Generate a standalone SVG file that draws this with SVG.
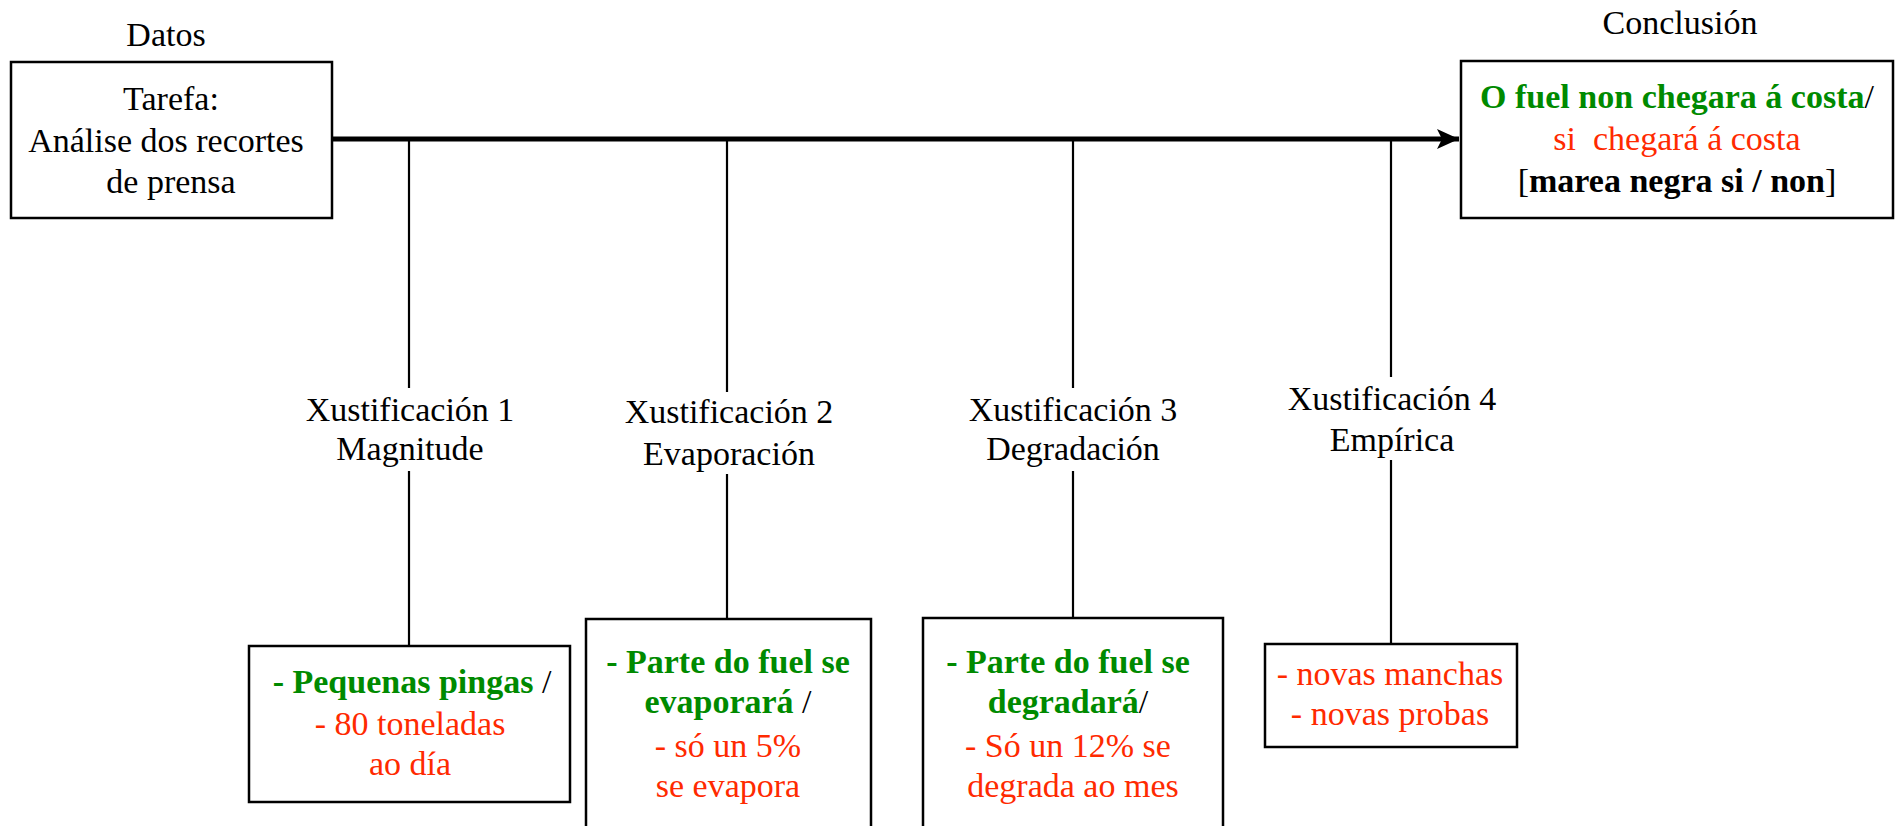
<svg xmlns="http://www.w3.org/2000/svg" width="1895" height="826" viewBox="0 0 1895 826">
<style>
text{font-family:"Liberation Serif","Times New Roman",serif;font-size:34px;text-anchor:middle;fill:#000}
.g{fill:#008a00;font-weight:bold}
.r{fill:#ff2a00}
.b{font-weight:bold}
.pre{white-space:pre}
.box{fill:#fff;stroke:#000;stroke-width:2.5}
.ln{stroke:#000;stroke-width:2.2;fill:none}
</style>
<defs>
<marker id="ah" markerWidth="24" markerHeight="20" refX="22" refY="10" markerUnits="userSpaceOnUse" orient="auto">
<path d="M0,0 L22,10 L0,20 L5,10 Z" fill="#000"/>
</marker>
</defs>
<g id="connectors">
<line x1="333" y1="139" x2="1459" y2="139" stroke="#000" stroke-width="5" marker-end="url(#ah)"/>
<line class="ln" x1="409" y1="141" x2="409" y2="388"/>
<line class="ln" x1="409" y1="471" x2="409" y2="646"/>
<line class="ln" x1="727" y1="141" x2="727" y2="392"/>
<line class="ln" x1="727" y1="474" x2="727" y2="619"/>
<line class="ln" x1="1073" y1="141" x2="1073" y2="388"/>
<line class="ln" x1="1073" y1="471" x2="1073" y2="618"/>
<line class="ln" x1="1391" y1="141" x2="1391" y2="377"/>
<line class="ln" x1="1391" y1="460" x2="1391" y2="644"/>
</g>
<g id="datos">
<text x="166" y="46">Datos</text>
<rect class="box" x="11" y="62" width="321" height="156"/>
<text x="171" y="110">Tarefa:</text>
<text x="166" y="152">Análise dos recortes</text>
<text x="171" y="193">de prensa</text>
</g>
<g id="conclusion">
<text x="1680" y="34">Conclusión</text>
<rect class="box" x="1461" y="61" width="432" height="157"/>
<text x="1677" y="108"><tspan class="g">O fuel non chegara á costa</tspan>/</text>
<text x="1677" y="150" class="r pre" xml:space="preserve">si  chegará á costa</text>
<text x="1677" y="192">[<tspan class="b">marea negra si / non</tspan>]</text>
</g>
<g id="xust1">
<text x="410" y="421">Xustificación 1</text>
<text x="410" y="460">Magnitude</text>
<rect class="box" x="249" y="646" width="321" height="156"/>
<text x="412" y="693"><tspan class="g">- Pequenas pingas</tspan> /</text>
<text x="410" y="735" class="r">- 80 toneladas</text>
<text x="410" y="775" class="r">ao día</text>
</g>
<g id="xust2">
<text x="729" y="423">Xustificación 2</text>
<text x="729" y="465">Evaporación</text>
<rect class="box" x="586" y="619" width="285" height="215"/>
<text x="728" y="673" class="g">- Parte do fuel se</text>
<text x="728" y="713"><tspan class="g">evaporará</tspan> /</text>
<text x="728" y="757" class="r">- só un 5%</text>
<text x="728" y="797" class="r">se evapora</text>
</g>
<g id="xust3">
<text x="1073" y="421">Xustificación 3</text>
<text x="1073" y="460">Degradación</text>
<rect class="box" x="923" y="618" width="300" height="216"/>
<text x="1068" y="673" class="g">- Parte do fuel se</text>
<text x="1068" y="713"><tspan class="g">degradará</tspan>/</text>
<text x="1068" y="757" class="r">- Só un 12% se</text>
<text x="1073" y="797" class="r">degrada ao mes</text>
</g>
<g id="xust4">
<text x="1392" y="410">Xustificación 4</text>
<text x="1392" y="451">Empírica</text>
<rect class="box" x="1265" y="644" width="252" height="103"/>
<text x="1390" y="685" class="r">- novas manchas</text>
<text x="1390" y="725" class="r">- novas probas</text>
</g>
</svg>
